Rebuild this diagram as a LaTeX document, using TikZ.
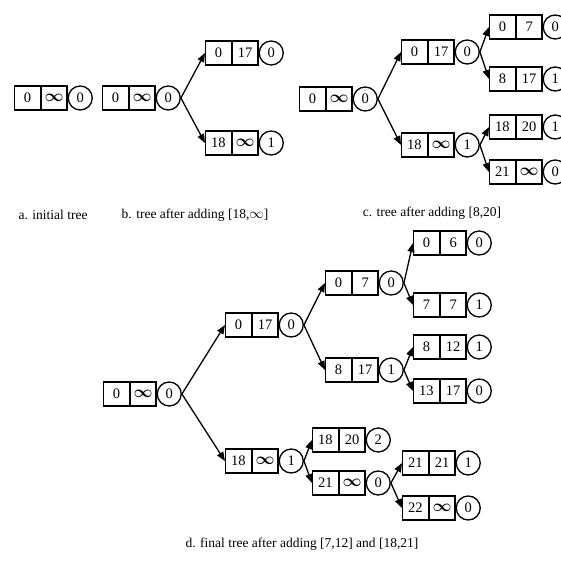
\documentclass[tikz,border=0pt]{standalone}
\usepackage{fontspec}
\setmainfont{Liberation Serif}
\usetikzlibrary{arrows.meta}
\tikzset{
  cell/.style={draw, line width=1.3pt, minimum width=25.5pt, minimum height=24pt, inner sep=0pt, anchor=west, font=\fontsize{14.5}{15}\selectfont},
  flag/.style={draw, circle, line width=1.3pt, minimum size=24pt, inner sep=0pt, anchor=west, font=\fontsize{14.5}{15}\selectfont},
  link/.style={line width=1.3pt, -{Triangle[length=9pt,width=7pt]}},
  captxt/.style={inner sep=0pt, font=\fontsize{13.5}{14}\selectfont},
}
\newcommand\trip[6]{%
  \node[cell] (#1-a) at (#2,#3) {#4};
  \node[cell] (#1-b) at (#1-a.east) {#5};
  \node[flag] (#1-c) at (#1-b.east) {#6};
}
\newcommand\inff{{\boldmath\scalebox{1.15}{$\infty$}}}
\begin{document}
\begin{tikzpicture}[x=1pt,y=-1pt]
\useasboundingbox (0,0) rectangle (561,561);
% tree a
\trip{a}{14}{98}{0}{\inff}{0}
% tree b
\trip{b}{102}{98}{0}{\inff}{0}
\trip{b1}{205}{53}{0}{17}{0}
\trip{b2}{205}{143}{18}{\inff}{1}
\draw[link] (b-c.east) -- (b1-a.west);
\draw[link] (b-c.east) -- (b2-a.west);
% tree c
\trip{c}{299}{99}{0}{\inff}{0}
\trip{c1}{401}{52}{0}{17}{0}
\trip{c2}{401}{145}{18}{\inff}{1}
\trip{c11}{489}{27}{0}{7}{0}
\trip{c12}{489}{79}{8}{17}{1}
\trip{c21}{489}{127}{18}{20}{1}
\trip{c22}{489}{172}{21}{\inff}{0}
\draw[link] (c-c.east) -- (c1-a.west);
\draw[link] (c-c.east) -- (c2-a.west);
\draw[link] (c1-c.east) -- (c11-a.west);
\draw[link] (c1-c.east) -- (c12-a.west);
\draw[link] (c2-c.east) -- (c21-a.west);
\draw[link] (c2-c.east) -- (c22-a.west);
% tree d
\trip{d}{103}{394}{0}{\inff}{0}
\trip{d1}{225}{325}{0}{17}{0}
\trip{d2}{225}{461}{18}{\inff}{1}
\trip{d11}{325}{283}{0}{7}{0}
\trip{d12}{325}{370}{8}{17}{1}
\trip{d21}{312}{440}{18}{20}{2}
\trip{d22}{312}{483}{21}{\inff}{0}
\trip{d111}{413}{243}{0}{6}{0}
\trip{d112}{413}{305}{7}{7}{1}
\trip{d121}{413}{347}{8}{12}{1}
\trip{d122}{413}{391}{13}{17}{0}
\trip{d221}{402}{463}{21}{21}{1}
\trip{d222}{402}{508}{22}{\inff}{0}
\draw[link] (d-c.east) -- (d1-a.west);
\draw[link] (d-c.east) -- (d2-a.west);
\draw[link] (d1-c.east) -- (d11-a.west);
\draw[link] (d1-c.east) -- (d12-a.west);
\draw[link] (d2-c.east) -- (d21-a.west);
\draw[link] (d2-c.east) -- (d22-a.west);
\draw[link] (d11-c.east) -- (d111-a.west);
\draw[link] (d11-c.east) -- (d112-a.west);
\draw[link] (d12-c.east) -- (d121-a.west);
\draw[link] (d12-c.east) -- (d122-a.west);
\draw[link] (d22-c.east) -- (d221-a.west);
\draw[link] (d22-c.east) -- (d222-a.west);
% captions
\node[captxt] (capa) at (53,215) {a. initial tree};
\node[captxt] (capb) at (195,215) {b. tree after adding [18,$\infty$]};
\node[captxt] (capc) at (432,213) {c. tree after adding [8,20]};
\node[captxt] (capd) at (302,544) {d. final tree after adding [7,12] and [18,21]};
\end{tikzpicture}
\end{document}
